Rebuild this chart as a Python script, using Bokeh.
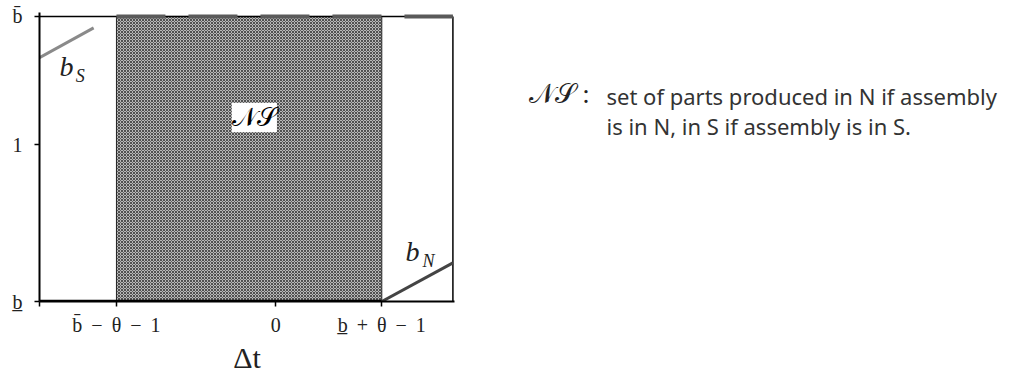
from bokeh.plotting import figure
from bokeh.models import Range1d, FixedTicker, Label
from bokeh.layouts import row
from bokeh.core.properties import value
from bokeh.embed import file_html
from bokeh.resources import INLINE

# ---- data (abstract units) ----
x_ticks = [-4.45, -3.0, 0.0, 2.0]
x_tick_labels = ["", "b\u0304 \u2009\u2212\u2009 \u03b8 \u2009\u2212\u2009 1", "0",
                 "b\u0332 \u2009+\u2009 \u03b8 \u2009\u2212\u2009 1"]
y_ticks = [0.0, 1.0, 1.82]
y_tick_labels = ["b\u0332", "1", "b\u0304"]

ns_left, ns_right = -3.0, 2.0
y_low, y_high = 0.0, 1.82
x_low, x_high = -4.45, 3.34

bS_x = [-4.45, -3.43]
bS_y = [1.557, 1.747]
bN_x = [2.0, 3.34]
bN_y = [0.0, 0.247]
base_x = [-4.45, 2.0]
base_y = [0.0, 0.0]
top_x = [-3.0, 3.34]
top_y = [1.82, 1.82]

legend_symbol = "\U0001D4A9\U0001D4AE :"
legend_lines = ["set of parts produced in N if assembly", "is in N, in S if assembly is in S."]

serif = "Liberation Serif"
H = 376

p = figure(width=460, height=H, output_backend="svg", toolbar_location=None,
           x_range=Range1d(x_low, x_high + 0.03), y_range=Range1d(y_low, y_high + 0.025),
           min_border_left=39, min_border_right=6, min_border_top=12, min_border_bottom=73)
p.grid.visible = False
p.background_fill_color = "white"
p.outline_line_color = None

# shaded NS region
p.quad(left=[ns_left], right=[ns_right], bottom=[y_low], top=[y_high],
       fill_color="#b8b8b8", line_color="#222222", line_width=1,
       hatch_pattern="diagonal_cross", hatch_scale=3, hatch_color="#505050", hatch_weight=1)

# frame top and right edges
p.line([x_low, x_high], [y_high, y_high], line_color="black", line_width=1.5)
p.line([x_high, x_high], [y_low, y_high], line_color="black", line_width=1.5)

p.line(base_x, base_y, line_color="black", line_width=3.5)
p.line(top_x, top_y, line_color="#5a5a5a", line_width=4, line_dash="49 23")
p.line(bS_x, bS_y, line_color="#8a8a8a", line_width=3)
p.line(bN_x, bN_y, line_color="#444444", line_width=3)

p.add_layout(Label(x=-0.4, y=1.175, text="\U0001D4A9\U0001D4AE", text_font=serif, text_font_size="26px",
                   text_align="center", text_baseline="middle", background_fill_color="white",
                   text_color="black"))
# b_S and b_N labels
p.add_layout(Label(x=-3.94, y=1.50, text="b", text_font=serif, text_font_style="italic",
                   text_font_size="28px", text_align="center", text_baseline="middle", text_color="#222222"))
p.add_layout(Label(x=-3.68, y=1.44, text="S", text_font=serif, text_font_style="italic",
                   text_font_size="18px", text_align="center", text_baseline="middle", text_color="#222222"))
p.add_layout(Label(x=2.58, y=0.32, text="b", text_font=serif, text_font_style="italic",
                   text_font_size="28px", text_align="center", text_baseline="middle", text_color="#222222"))
p.add_layout(Label(x=2.88, y=0.26, text="N", text_font=serif, text_font_style="italic",
                   text_font_size="18px", text_align="center", text_baseline="middle", text_color="#222222"))

for ax in (p.xaxis[0], p.yaxis[0]):
    ax.axis_line_color = "black"
    ax.axis_line_width = 2
    ax.major_tick_line_color = "black"
    ax.major_tick_line_width = 1.5
    ax.major_tick_out = 5
    ax.major_tick_in = 0
    ax.minor_tick_line_color = None
    ax.major_label_text_font = serif
    ax.major_label_text_font_size = "20px"
    ax.major_label_text_color = "#222222"

p.xaxis.major_label_standoff = 7
p.yaxis.major_label_standoff = 12
p.xaxis.ticker = FixedTicker(ticks=x_ticks)
p.xaxis.major_label_overrides = {t: l for t, l in zip(x_ticks, x_tick_labels)}
p.yaxis.ticker = FixedTicker(ticks=y_ticks)
p.yaxis.major_label_overrides = {t: l for t, l in zip(y_ticks, y_tick_labels)}
p.yaxis.major_label_orientation = "horizontal"

p.xaxis.axis_label = "\u0394t"
p.xaxis.axis_label_text_font = serif
p.xaxis.axis_label_text_font_style = "normal"
p.xaxis.axis_label_text_font_size = "30px"
p.xaxis.axis_label_text_color = "#222222"
p.xaxis.axis_label_standoff = 2

# right-hand explanation panel (screen-like coordinates, y measured from bottom)
W2 = 555
p2 = figure(width=W2, height=H, output_backend="svg", toolbar_location=None,
            x_range=Range1d(0, W2), y_range=Range1d(0, H), min_border=0)
p2.axis.visible = False
p2.grid.visible = False
p2.outline_line_color = None
p2.text(x=[68], y=[H - 106], text=[legend_symbol], text_font=value(serif), text_font_size="27px",
        text_baseline="middle", text_color="#222222")
p2.text(x=[146, 146], y=[H - 108, H - 148], text=legend_lines, text_font=value("Noto Sans"),
        text_font_size="22px", text_baseline="middle", text_color="#333333")

layout = row(p, p2)
open("out.html", "w").write(file_html(layout, INLINE))
